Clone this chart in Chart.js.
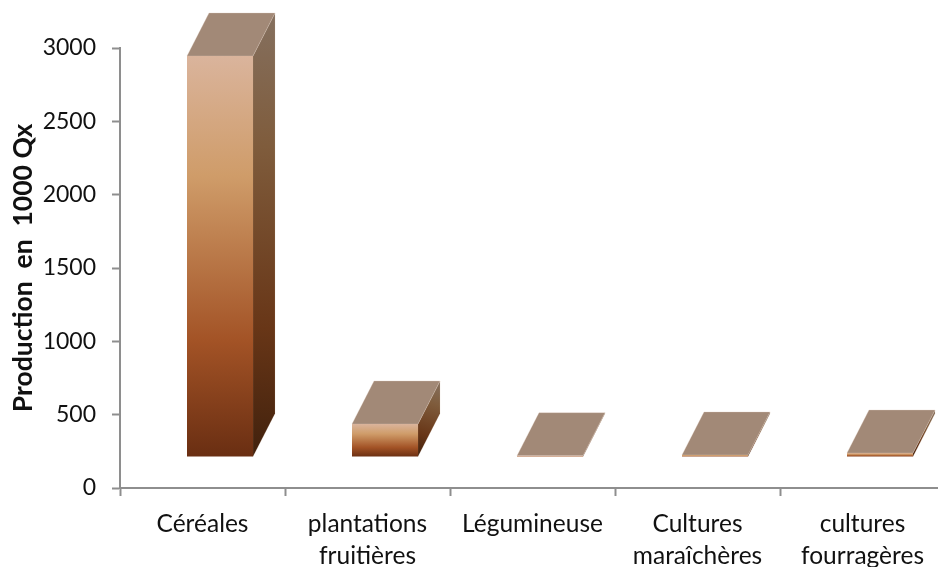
<!DOCTYPE html>
<html><head><meta charset="utf-8">
<style>html,body{margin:0;padding:0;background:#fff;overflow:hidden;width:938px;height:567px}canvas{display:block}</style>
<script src="https://cdn.jsdelivr.net/npm/chart.js@4"></script>
</head><body><canvas id="c" width="960" height="567"></canvas>
<script>
const categories = ['Céréales', ['plantations','fruitières'], 'Légumineuse', ['Cultures','maraîchères'], ['cultures','fourragères']];
const production = [2734, 225, 9, 14, 27];
const yTicks = [0, 500, 1000, 1500, 2000, 2500, 3000];
const yTitle = 'Production  en  1000 Qx';

const FONT = 'Lato, Carlito, sans-serif';
const AXIS = '#8e8e8e';
const SHIFT_X = 17.5, SHIFT_Y = -31, DEPTH_X = 22, DEPTH_Y = 43;

const frontStops = [[0,'#dab49c'],[0.3,'#cf9c69'],[0.71,'#a35326'],[1,'#692e12']];
const sideStops = [[0,'#85705f'],[0.3,'#7f5c3c'],[0.71,'#683617'],[1,'#41210d']];

function grad(ctx, x0, y0, x1, y1, stops){
  const g = ctx.createLinearGradient(x0, y0, x1, y1);
  stops.forEach(s => g.addColorStop(s[0], s[1]));
  return g;
}
function poly(ctx, pts, fill, stroke){
  ctx.beginPath();
  pts.forEach((p,i) => i ? ctx.lineTo(p[0],p[1]) : ctx.moveTo(p[0],p[1]));
  ctx.closePath();
  ctx.fillStyle = fill; ctx.fill();
  ctx.lineWidth = 0.6; ctx.strokeStyle = stroke; ctx.stroke();
}
const extrude = {
  id: 'extrude',
  beforeDatasetDraw(chart){
    const ctx = chart.ctx;
    ctx.save();
    ctx.translate(SHIFT_X, SHIFT_Y);
    chart.getDatasetMeta(0).data.forEach(bar => {
      const l = bar.x - bar.width/2, r = bar.x + bar.width/2, t = bar.y, b = bar.base;
      poly(ctx, [[r,t],[r+DEPTH_X,t-DEPTH_Y],[r+DEPTH_X,b-DEPTH_Y],[r,b]],
        grad(ctx, r+DEPTH_X, t-DEPTH_Y, r, b, sideStops), 'rgba(200,175,155,0.25)');
      poly(ctx, [[l,t],[l+DEPTH_X,t-DEPTH_Y],[r+DEPTH_X,t-DEPTH_Y],[r,t]], '#a28977', 'rgba(225,205,190,0.5)');
    });
  },
  afterDatasetDraw(chart){ chart.ctx.restore(); }
};

const canvas = document.getElementById('c');
canvas.getContext('2d').textRendering = 'optimizeSpeed';

new Chart(canvas, {
  type: 'bar',
  data: { labels: categories, datasets: [{
    data: production,
    clip: false,
    barPercentage: 0.4, categoryPercentage: 1,
    borderWidth: 0,
    backgroundColor(c){
      const y = c.chart.scales.y;
      if (!y || !c.parsed) return '#a35326';
      const top = y.getPixelForValue(c.parsed.y), bot = y.getPixelForValue(0);
      if (!Number.isFinite(top) || !Number.isFinite(bot)) return '#a35326';
      return grad(c.chart.ctx, 0, top, 0, bot, frontStops);
    }
  }]},
  plugins: [extrude],
  options: {
    responsive: false, animation: false,
    layout: { padding: { top: 48, right: 15, left: 0, bottom: 0 } },
    plugins: { legend: { display: false }, tooltip: { enabled: false } },
    scales: {
      x: {
        offset: true,
        afterFit(s){ s.height = 79; },
        border: { color: AXIS, width: 2 },
        grid: { display: true, drawOnChartArea: false, drawTicks: true, tickLength: 8, tickColor: AXIS, tickWidth: 2, offset: true },
        ticks: { color: '#111', autoSkip: false, maxRotation: 0, minRotation: 0, padding: 12, font: { family: FONT, size: 24.5, lineHeight: 1.31 } }
      },
      y: {
        min: 0, max: 3000,
        afterBuildTicks(s){ s.ticks = yTicks.map(v => ({ value: v })); },
        afterFit(s){ s.width = 120; },
        border: { color: AXIS, width: 2 },
        grid: { display: true, drawOnChartArea: false, drawTicks: true, tickLength: 8, tickColor: AXIS, tickWidth: 2 },
        ticks: { color: '#111', padding: 16, callback: v => String(v), font: { family: FONT, size: 23 } },
        title: { display: true, text: yTitle, color: '#111', padding: { top: 8, bottom: 0 }, font: { family: FONT, size: 26.5, weight: 'bold' } }
      }
    }
  }
});
</script></body></html>
